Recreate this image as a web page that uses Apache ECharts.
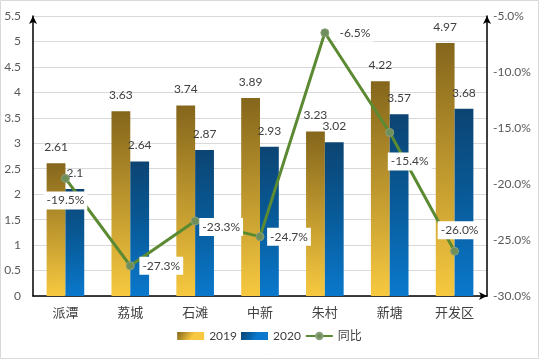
<!DOCTYPE html>
<html><head><meta charset="utf-8">
<script src="https://cdn.jsdelivr.net/npm/echarts@6/dist/echarts.min.js"></script>
<style>html,body{margin:0;padding:0;background:#fff}#c{width:539px;height:359px}</style>
</head><body><div id="c"></div>
<script>
var categories = ['派潭','荔城','石滩','中新','朱村','新塘','开发区'];
var v2019 = [2.61, 3.63, 3.74, 3.89, 3.23, 4.22, 4.97];
var v2020 = [2.1, 2.64, 2.87, 2.93, 3.02, 3.57, 3.68];
var yoy = [-19.5, -27.3, -23.3, -24.7, -6.5, -15.4, -26.0];
var leftTicks = {min: 0, max: 5.5, interval: 0.5};
var rightTicks = {min: -30, max: -5, interval: 5};

var FONT = "Lato, 'Noto Sans CJK SC', sans-serif";
var labelOffsets = [[0,22],[31,0],[26,6],[29,0],[30,0],[20,29],[5,-21]];

var gold = {type:'linear',x:0,y:0,x2:0.5,y2:1,colorStops:[{offset:0,color:'#84661c'},{offset:0.45,color:'#b8922c'},{offset:1,color:'#f7c940'}]};
var blue = {type:'linear',x:0,y:0,x2:0.5,y2:1,colorStops:[{offset:0,color:'#0c4472'},{offset:0.45,color:'#085996'},{offset:1,color:'#0a78cc'}]};

var chart = echarts.init(document.getElementById('c'));
chart.setOption({
  animation: false,
  textStyle: {fontFamily: FONT},
  graphic: [{type:'rect', shape:{x:0.5,y:0.5,width:538,height:358}, style:{fill:'none',stroke:'#d9d9d9',lineWidth:1}, silent:true}],
  grid: {left: 33, right: 52, top: 16, bottom: 63},
  legend: {
    bottom: 12, left: 'center', itemGap: 4, itemWidth: 27, itemHeight: 8,
    textStyle: {color:'#404040', fontSize: 12, fontFamily: FONT},
    data: [{name:'2019', icon:'rect'}, {name:'2020', icon:'rect'}, {name:'同比'}]
  },
  xAxis: {
    type: 'category', data: categories,
    axisLine: {lineStyle:{color:'#000', width:1.5}, symbol:['none','arrow'], symbolSize:[6,8]},
    axisTick: {show:false},
    axisLabel: {color:'#404040', fontSize: 13, margin: 10}
  },
  yAxis: [{
    type: 'value', min: leftTicks.min, max: leftTicks.max, interval: leftTicks.interval,
    axisLine: {show:true, lineStyle:{color:'#000', width:1.5}, symbol:['none','arrow'], symbolSize:[6,8]},
    axisTick: {show:false},
    splitLine: {lineStyle:{color:'#d9d9d9'}},
    axisLabel: {color:'#595959', fontSize: 12, margin: 12}
  },{
    type: 'value', min: rightTicks.min, max: rightTicks.max, interval: rightTicks.interval,
    position: 'right',
    axisLine: {show:true, lineStyle:{color:'#000', width:1.5}, symbol:['none','arrow'], symbolSize:[6,8]},
    axisTick: {show:false},
    splitLine: {show:false},
    axisLabel: {color:'#595959', fontSize: 12, margin: 6, formatter: function(v){return v.toFixed(1)+'%';}}
  }],
  series: [{
    name: '2019', type: 'bar', data: v2019, barWidth: '29%', barGap: '0%',
    itemStyle: {color: gold},
    label: {show:true, position:'top', distance: 10, color:'#404040', fontSize: 12}
  },{
    name: '2020', type: 'bar', data: v2020, barWidth: '29%', barGap: '0%',
    itemStyle: {color: blue},
    label: {show:true, position:'top', distance: 10, color:'#404040', fontSize: 12}
  },{
    name: '同比', type: 'line', yAxisIndex: 1, z: 5,
    data: yoy.map(function(v, i){
      return {value: v, label: {offset: labelOffsets[i]}};
    }),
    lineStyle: {color:'#5b8a33', width: 3},
    itemStyle: {color:'#6f8f5a', borderColor:'#8aa07a', borderWidth:1},
    symbol: 'circle', symbolSize: 8,
    label: {
      show: true, position: 'inside', color:'#404040', fontSize: 12,
      backgroundColor:'#fff', padding:[3,3,3,3],
      formatter: function(p){return p.value.toFixed(1)+'%';}
    }
  }]
});
</script></body></html>
